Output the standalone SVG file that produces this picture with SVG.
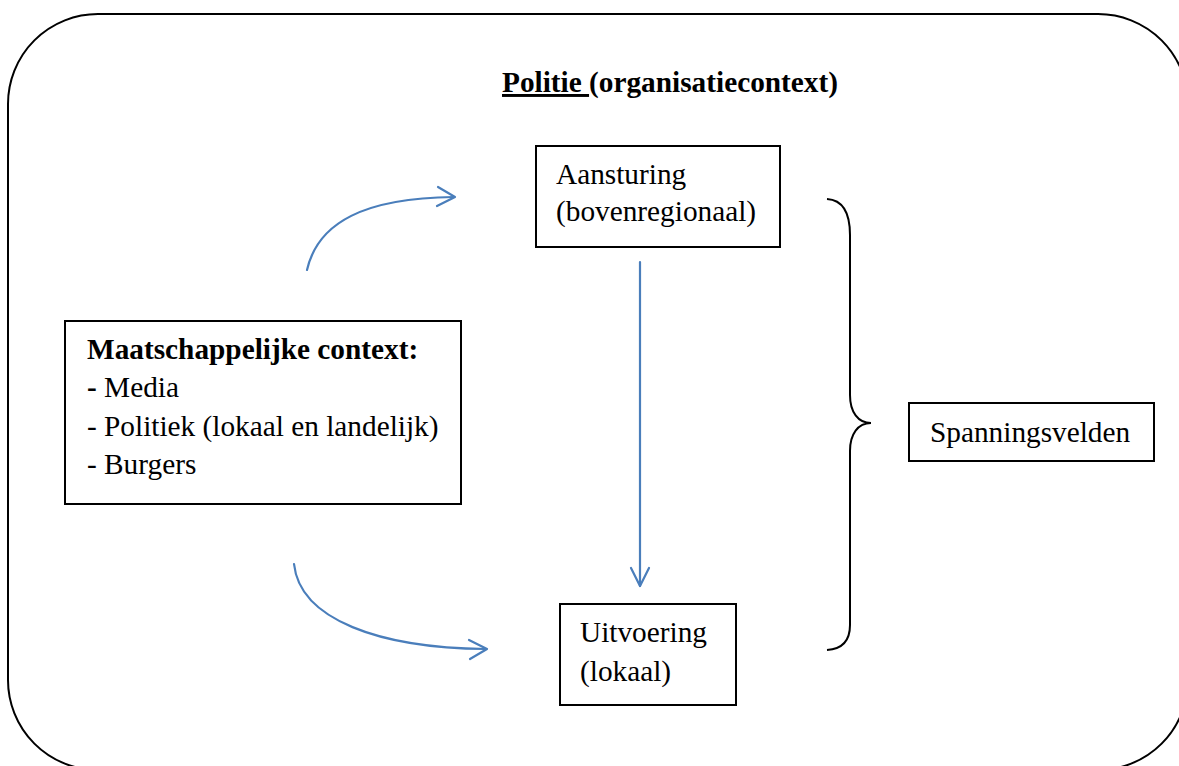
<svg xmlns="http://www.w3.org/2000/svg" width="1179" height="766" viewBox="0 0 1179 766">
  <style>
    .frame { fill: none; stroke: #000; stroke-width: 2; }
    .box { fill: #fff; stroke: #000; stroke-width: 2; }
    .flow { fill: none; stroke: #4a7ebb; stroke-width: 2.2; stroke-linecap: round; stroke-linejoin: round; }
    .brace { fill: none; stroke: #000; stroke-width: 2; }
    text { font-family: "Liberation Serif", "Times New Roman", serif; font-size: 29.3px; fill: #000; }
    .b { font-weight: bold; }
  </style>

  <!-- outer organisation frame -->
  <rect class="frame" x="8" y="14" width="1180" height="756" rx="90" ry="90"/>
  <g id="title">
    <text class="b" x="502" y="92"><tspan text-decoration="underline">Politie </tspan>(organisatiecontext)</text>
  </g>

  <g id="aansturing">
    <rect class="box" x="536" y="146" width="244" height="101"/>
    <text x="556" y="184">Aansturing</text>
    <text x="556" y="221">(bovenregionaal)</text>
  </g>

  <g id="maatschappij">
    <rect class="box" x="65" y="321" width="396" height="183"/>
    <text class="b" x="87" y="359">Maatschappelijke context:</text>
    <text x="87" y="397"><tspan class="b">-</tspan> Media</text>
    <text x="87" y="436">- Politiek (lokaal en landelijk)</text>
    <text x="87" y="474">- Burgers</text>
  </g>

  <g id="uitvoering">
    <rect class="box" x="560" y="604" width="176" height="101"/>
    <text x="580" y="642">Uitvoering</text>
    <text x="580" y="681">(lokaal)</text>
  </g>

  <g id="spanningsvelden">
    <rect class="box" x="909" y="403" width="245" height="58"/>
    <text x="930" y="442">Spanningsvelden</text>
  </g>

  <g id="connectors">
    <!-- society to steering -->
    <path class="flow" d="M307,270 C318,222 365,198 454,197"/>
    <path class="flow" d="M438,187 L455,197 L437,206"/>
    <!-- society to execution -->
    <path class="flow" d="M294,564 C300,620 380,648 486,649"/>
    <path class="flow" d="M469,640 L487,649 L470,659"/>
    <!-- steering to execution -->
    <path class="flow" d="M640,262 L640,586"/>
    <path class="flow" d="M631,568 L640,586 L649,568"/>
    <!-- brace grouping both levels -->
    <path class="brace" d="M827,199 C843,200 850,213 850,235 L850,395 C850,412 858,423 871,423 C858,423 850,434 850,451 L850,625 C850,640 843,649 827,650"/>
  </g>
</svg>
